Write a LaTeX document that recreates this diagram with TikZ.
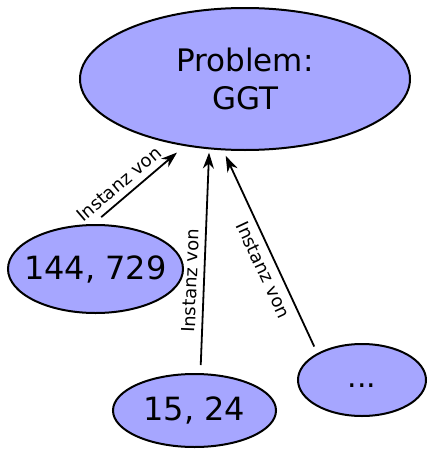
\documentclass[tikz,border=0pt]{standalone}
\usepackage{fontspec}
\setmainfont{DejaVu Sans}
\usetikzlibrary{positioning,arrows.meta,shapes.geometric}
\definecolor{nodefill}{RGB}{166,166,255}

\begin{document}
\begin{tikzpicture}[x=1pt, y=-1pt, main/.style = {ellipse, draw, fill=nodefill, line width=2pt, inner sep=0pt}, every edge/.append style={line width=1.8pt, -{Stealth[length=16pt, width=11pt, inset=5pt]}}, lbl/.style={sloped, inner sep=6pt, font=\fontsize{18}{21}\selectfont}]
\useasboundingbox (0,0) rectangle (428,450);

\node[main, minimum width=330pt, minimum height=142pt, align=center, font=\fontsize{31}{38.4}\selectfont] (prob) at (245,79) {Problem:\\GGT};
\node[main, inner xsep=-12pt, minimum width=175pt, minimum height=88pt, font=\fontsize{32}{38}\selectfont] (inst1) at (95.5,269) {144, 729};
\node[main, minimum width=163pt, minimum height=73pt, font=\fontsize{32}{38}\selectfont] (inst2) at (194.5,410.5) {15, 24};
\node[main, minimum width=128pt, minimum height=72pt, font=\fontsize{30}{38}\selectfont] (inst3) at (362,380) {\strut...};

\path 
    (inst1.93.7) edge[shorten <=10.6pt, shorten >=10pt] node[lbl, above, pos=0.38] {Instanz von} (prob.228.6)
    (inst2.81.1) edge[shorten <=8.1pt, shorten >=3.3pt] node[lbl, above, pos=0.41] {Instanz von} (prob.243.7)
    (inst3.149.3) edge[shorten <=7.3pt, shorten >=6pt] node[lbl, below, pos=0.44] {Instanz von} (prob.253.8);
\end{tikzpicture}
\end{document}
